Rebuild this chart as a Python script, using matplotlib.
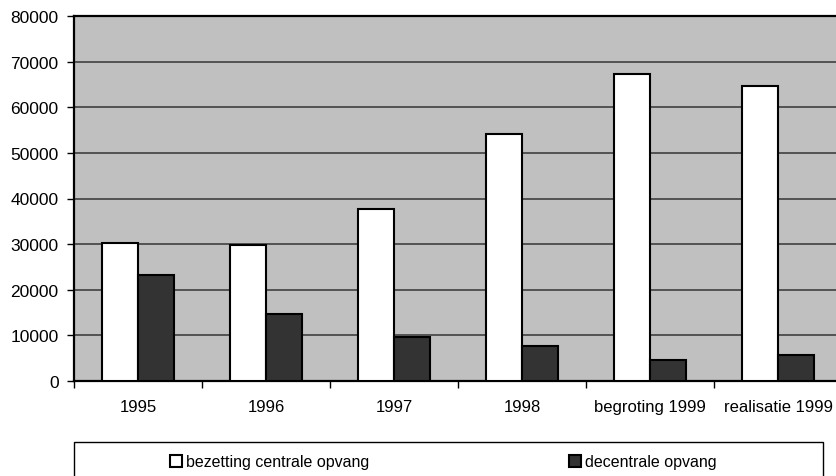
import numpy as np
import matplotlib
matplotlib.use("Agg")
import matplotlib.pyplot as plt
from matplotlib.patches import Rectangle

plt.rcParams['font.family'] = ['Liberation Sans', 'DejaVu Sans']

categories = ['1995', '1996', '1997', '1998', 'begroting 1999', 'realisatie 1999']
centraal = [30300, 29800, 37800, 54100, 67300, 64700]
decentraal = [23200, 14600, 9600, 7700, 4700, 5800]
series_names = ['bezetting centrale opvang', 'decentrale opvang']

W, H = 836, 477
fig = plt.figure(figsize=(W / 100, H / 100), dpi=100)
ax = fig.add_axes([74 / W, 1 - 382 / H, (842 - 74) / W, (382 - 17) / H])
ax.set_facecolor('#c0c0c0')

x = np.arange(len(categories)) + 0.5
bw = 0.285
ax.bar(x - bw / 2, centraal, bw, color='white', edgecolor='black', lw=1.5, zorder=3,
       label=series_names[0])
ax.bar(x + bw / 2, decentraal, bw, color='#333333', edgecolor='black', lw=1.5, zorder=3,
       label=series_names[1])

ax.set_xlim(0, len(categories))
ax.set_ylim(0, 80000)
ax.set_yticks(np.arange(0, 80001, 10000))
ax.yaxis.grid(True, color='#404040', lw=1.2, zorder=1)
ax.set_axisbelow(True)

ax.set_xticks(np.arange(len(categories) + 1))
ax.set_xticklabels([])
ax.set_xticks(x, minor=True)
ax.set_xticklabels(categories, minor=True)
ax.tick_params(axis='x', which='minor', length=0, pad=13, labelsize=12)
ax.tick_params(axis='x', which='major', length=5, width=1, direction='out')
ax.tick_params(axis='y', length=5, width=1, direction='out', labelsize=12.5, pad=6)

for s in ['left', 'bottom', 'top']:
    ax.spines[s].set_linewidth(1.6)
    ax.spines[s].set_color('black')
ax.spines['right'].set_visible(False)

# legend box
fig.patches.append(Rectangle((74 / W, -0.05), (823 - 74) / W, 0.05 + 1 - 443 / H,
                             transform=fig.transFigure, facecolor='white',
                             edgecolor='black', lw=1.0))
h, l = ax.get_legend_handles_labels()
fig.legend(h, l, loc='center', bbox_to_anchor=(443 / W, 1 - 463 / H), ncol=2,
           frameon=False, fontsize=11.5, columnspacing=12.5, handlelength=0.75,
           handleheight=0.75, handletextpad=0.25)

fig.savefig('out.png', dpi=100)
